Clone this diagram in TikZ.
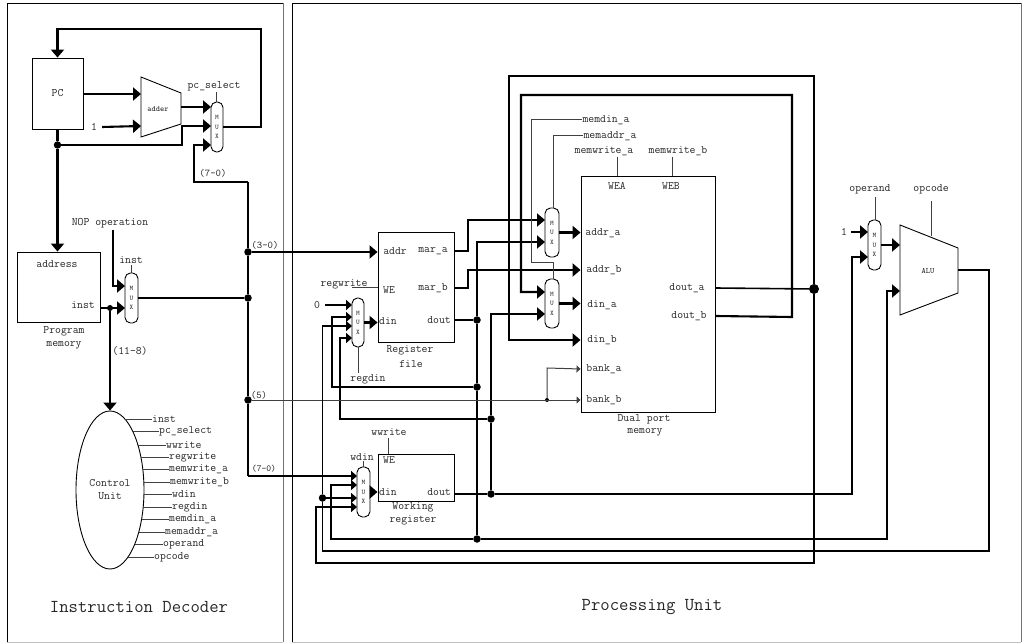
\documentclass[tikz,border=0pt]{standalone}
\usetikzlibrary{arrows.meta,shapes.geometric}

\begin{document}
\begin{tikzpicture}[
  x=1pt, y=-1pt,
  line join=miter,
  every node/.style={font=\ttfamily\fontsize{11.4}{13}\selectfont, inner sep=0pt, text=black!85},
  panel/.style={draw=black, line width=0.9pt},
  paneledge/.style={draw=black!55, line width=0.9pt},
  panelfoot/.style={draw=black!25, line width=0.9pt},
  box/.style={draw, line width=0.9pt},
  mux/.style={draw, line width=0.9pt, rounded corners=5.5pt, inner sep=0pt, align=center,
    font=\ttfamily\fontsize{7}{9.6}\selectfont},
  wire/.style={draw, line width=2.1pt, -{Triangle[length=8pt,width=13pt]}},
  bus/.style={draw, line width=2.1pt},
  feed/.style={draw, line width=1.6pt, -{Triangle[length=6pt,width=10pt]}},
  line/.style={draw, line width=1.6pt},
  signal/.style={draw=black!75, line width=1pt},
  port/.style={draw=black!75, line width=1pt, -{Triangle[length=4pt,width=7pt]}},
  dot/.style={circle, fill=black, minimum size=7.5pt},
  bigdot/.style={circle, fill=black, minimum size=10pt},
  minidot/.style={circle, fill=black, minimum size=4pt},
  small/.style={font=\ttfamily\fontsize{8}{9}\selectfont},
  field/.style={font=\ttfamily\fontsize{10.3}{11}\selectfont},
  title/.style={font=\ttfamily\fontsize{18.2}{19}\selectfont},
]
\useasboundingbox (0,0) rectangle (1023,644);
% the two units
\draw[panel] (7,642) -- (7,3) -- (283,3);
\draw[paneledge] (283,3) -- (283,642);
\draw[panelfoot] (7,642) -- (283,642);
\draw[panel] (292,642) -- (292,3) -- (1021,3);
\draw[paneledge] (1021,3) -- (1021,642);
\draw[panelfoot] (292,642) -- (1021,642);
\node[title] (decoder) at (139,607) {Instruction Decoder};
\node[title] (procunit) at (652,607) {Processing Unit};

% instruction decoder
\node[box, minimum width=51pt, minimum height=71pt] (pc) at (57.5,93.5) {PC};
\draw[box] (141,77) -- (181,93) -- (181,124) -- (141,137) -- cycle;
\node[small] (adder) at (158,109) {adder};
\coordinate (addera) at (141,94);
\coordinate (adderb) at (141,126);
\coordinate (adderout) at (181,107);
\node[mux, minimum width=12pt, minimum height=50pt] (pcmux) at (217,127) {M\\U\\X};
\coordinate (pcmuxa) at (211,107);
\coordinate (pcmuxb) at (211,126);
\coordinate (pcmuxc) at (211,145);
\node (pcselect) at (214,86) {pc\_select};
\node (one) at (94,127) {1};
\node[dot] (pcdot) at (57.5,145) {};

\node[box, minimum width=83pt, minimum height=70pt] (pmem) at (58.5,287) {};
\node (paddress) at (57,264) {address};
\node (pinst) at (83,305) {inst};
\node (pmemtop) at (64,331) {Program};
\node (pmembot) at (64,345) {memory};
\node (nop) at (110,223) {NOP operation};
\node[mux, minimum width=13pt, minimum height=50pt] (imux) at (131.5,298) {M\\U\\X};
\coordinate (imuxa) at (125,286);
\coordinate (imuxb) at (125,308);
\node (iselect) at (131,260) {inst};
\node[dot, minimum size=6pt] (instdot) at (110,308) {};
\node (fieldd) at (130,351) {(11-8)};

\node[ellipse, draw, line width=0.9pt, minimum width=68pt, minimum height=158pt, align=center,
  font=\ttfamily\fontsize{11.4}{13}\selectfont] (cu) at (110,490) {Control\\Unit};
% control outputs: y, end of line, name
\foreach \i/\y/\e/\lab in {
  a/419/152/inst, b/431.5/159/pc\_select, c/445/166/wwrite, d/457/169/regwrite,
  e/469/169/memwrite\_a, f/482/170/memwrite\_b, g/494/172/wdin, h/507/172/regdin,
  i/519/169/memdin\_a, j/532/165/memaddr\_a, k/544/163/operand, l/557/154/opcode}{
  \node[anchor=west] (cu\i) at (\e,\y) {\lab};
  \pgfmathsetmacro{\xs}{110+34*sqrt(1-((\y-490)/79)^2)}
  \draw[signal] (\xs,\y) -- (cu\i.west);
}

% bus
\node[dot] (busa) at (248,252) {};
\node[dot] (busb) at (248,298) {};
\node[dot] (busc) at (248,400) {};
\coordinate (bustop) at (248,182);
\coordinate (busbot) at (248,476);
\node[field] (fieldh) at (213,173) {(7-0)};
\node[field] (fielda) at (265,245) {(3-0)};
\node[field] (fieldb) at (259,395) {(5)};
\node[font=\ttfamily\fontsize{9.2}{10}\selectfont] (fieldw) at (264,469) {(7-0)};

\draw[wire] (pc.east |- addera) -- (addera);
\draw[wire] ([xshift=5pt]one.east) -- (adderb);
\draw[wire] (adderout) -- (pcmuxa);
\draw[bus] (pcmux.east) -- (261,127) -- (261,29) -- (57.5,29) -- (57.5,34);
\draw[wire] (57.5,29) -- (pc.north);
\draw[signal] (216,92) -- (pcmux.north -| 216,0);
\draw[bus] (pc.south) -- (pcdot);
\draw[wire] (pcdot) -- (pcdot |- pmem.north);
\draw[wire] (pcdot) -- (182,145) -- (182,126) -- (pcmuxb);
\draw[wire] (bustop) -- (194,182) -- (194,145) -- (pcmuxc);
\draw[wire] (113,230) -- (113,286) -- (imuxa);
\draw[signal] (131,265) -- (imux.north -| 131,0);
\draw[wire] (pmem.east |- imuxb) -- (imuxb);
\draw[wire] (instdot) -- (instdot |- cu.north);
\draw[bus] (imux.east) -- (busb);
\draw[bus] (bustop) -- (busa);
\draw[bus] (busa) -- (busb);
\draw[bus] (busb) -- (busc);

% register file
\node[box, minimum width=76pt, minimum height=110pt] (regfile) at (416,287) {};
\node (raddr) at (395,251) {addr};
\node (rmara) at (433,251) {mar\_a};
\node (rwe) at (389,290) {WE};
\node (rmarb) at (433,288) {mar\_b};
\node (rdin) at (388,321) {din};
\node (rdout) at (439,320) {dout};
\node (regtop) at (410,350) {Register};
\node (regbot) at (411,364) {file};
\node (regwrite) at (344,284) {regwrite};
\node[mux, minimum width=12pt, minimum height=49pt] (regmux) at (358,322.5) {M\\U\\X};
\coordinate (regmuxa) at (352,305);
\coordinate (regmuxb) at (352,317);
\coordinate (regmuxc) at (352,326);
\coordinate (regmuxd) at (352,338);
\node (zero) at (317,305) {0};
\node (regdin) at (368,379) {regdin};

% working register
\node[box, minimum width=76pt, minimum height=47pt] (workreg) at (416,477.5) {};
\node (wwe) at (389,460) {WE};
\node (wdin) at (388,492) {din};
\node (wdout) at (439,492) {dout};
\node (worktop) at (413,507) {Working};
\node (workbot) at (413,520) {register};
\node (wwrite) at (389,432) {wwrite};
\node (wdinsel) at (362,457) {wdin};
\node[mux, minimum width=13pt, minimum height=50pt] (wmux) at (363.5,492) {M\\U\\X};
\coordinate (wmuxa) at (357,476);
\coordinate (wmuxb) at (357,485);
\coordinate (wmuxc) at (357,498);
\coordinate (wmuxd) at (357,507);

% memory
\node[box, minimum width=134pt, minimum height=236pt] (mem) at (648,294) {};
\node (wea) at (617,186) {WEA};
\node (web) at (671,186) {WEB};
\node (memwa) at (604,151) {memwrite\_a};
\node (memwb) at (678,151) {memwrite\_b};
\node (memdina) at (606,120) {memdin\_a};
\node (memaddra) at (610,136) {memaddr\_a};
\node (addra) at (603,233) {addr\_a};
\node (addrb) at (604,270) {addr\_b};
\node (dina) at (602,305) {din\_a};
\node (dinb) at (602,340) {din\_b};
\node (banka) at (604,369) {bank\_a};
\node (bankb) at (604,400) {bank\_b};
\node (douta) at (687,288) {dout\_a};
\node (doutb) at (689,316) {dout\_b};
\node (memtop) at (644,419) {Dual port};
\node (membot) at (645,432) {memory};
\node[mux, minimum width=14pt, minimum height=49pt] (amux) at (552,232.5) {M\\U\\X};
\coordinate (amuxa) at (545,220);
\coordinate (amuxb) at (545,242);
\node[mux, minimum width=14pt, minimum height=49pt] (dmux) at (552,303.5) {M\\U\\X};
\coordinate (dmuxa) at (545,292);
\coordinate (dmuxb) at (545,314);

% alu
\draw[box] (900,225) -- (958,248) -- (958,293) -- (900,315) -- cycle;
\node[small] (alu) at (928,271) {ALU};
\coordinate (alua) at (900,245);
\coordinate (alub) at (900,291);
\coordinate (aluout) at (958,270);
\node[mux, minimum width=13pt, minimum height=50pt] (opmux) at (874.5,245) {M\\U\\X};
\coordinate (opmuxa) at (868,232);
\coordinate (opmuxb) at (868,257);
\node (opone) at (844,232) {1};
\node (operand) at (870,189) {operand};
\node (opcode) at (931,189) {opcode};

% junctions
\node[dot] (regdot) at (477,320) {};
\node[dot] (regdotb) at (477,387) {};
\node[dot] (regdotc) at (477,539) {};
\node[dot] (workdot) at (491,494) {};
\node[dot] (workdotb) at (491,419) {};
\node[dot] (aludot) at (322.5,498) {};
\node[bigdot] (outdot) at (814,289) {};
\node[minidot] (bankdot) at (547,400) {};

% register file and working register wiring
\draw[wire] (busa) -- (regfile.west |- busa);
\draw[signal] (352,288) -- (regfile.west |- 0,288);
\draw[feed] ([xshift=5pt]zero.east) -- (regmuxa);
\draw[wire] (regmux.east) -- (regfile.west |- regmux);
\draw[signal] (regmux.south) -- (358,373);
\draw[line] (regfile.east |- rdout) -- (regdot);
\draw[line] (regdot) -- (regdotb);
\draw[line] (regdotb) -- (regdotc);
\draw[feed] (regdotb) -- (332,387) -- (332,317) -- (regmuxb);
\draw[feed] (workdotb) -- (340,419) -- (340,338) -- (regmuxd);
\draw[line] (busbot) -- (busc);
\draw[feed] (busbot) -- (wmuxa);
\draw[feed] (regdotc) -- (331,539) -- (331,485) -- (wmuxb);
\draw[feed] (aludot) -- (wmuxc);
\draw[feed] (outdot) -- (814,563) -- (316,563) -- (316,507) -- (wmuxd);
\draw[wire] (wmux.east) -- (workreg.west |- wmux);
\draw[signal] (wdinsel.south -| wmux.north) -- (wmux.north);
\draw[signal] (388,438) -- (workreg.north -| 388,0);
\draw[line] (workreg.east |- workdot) -- (workdot);
\draw[line] (workdot) -- (workdotb);

% memory wiring
\draw[wire] (regfile.east |- rmara) -- (468,251) -- (468,220) -- (amuxa);
\draw[wire] (regfile.east |- rmarb) -- (468,288) -- (468,270) -- (mem.west |- addrb);
\draw[wire] (regdot) -- (477,242) -- (amuxb);
\draw[wire] (workdotb) -- (491,314) -- (dmuxb);
\draw[wire] (amux.east) -- (mem.west |- amux);
\draw[wire] (dmux.east) -- (mem.west |- dmux);
\draw[wire] (outdot) -- (814,76) -- (509,76) -- (509,340) -- (mem.west |- dinb);
\draw[wire] (mem.east |- doutb) -- (792,317) -- (792,95) -- (521,95) -- (521,292) -- (dmuxa);
\draw[line] (mem.east |- douta) -- (outdot);
\draw[port] (busc) -- (mem.west |- busc);
\draw[port] (bankdot) -- (547,368) -- (mem.west |- banka);
\draw[signal] (memdina.west) -- (531,120) -- (531,263) -- (553,263) -- (dmux.north -| 553,0);
\draw[signal] (memaddra.west) -- (553,136) -- (amux.north -| 553,0);
\draw[signal] (617,157) -- (mem.north -| 617,0);
\draw[signal] (672,157) -- (mem.north -| 672,0);

% alu wiring
\draw[wire] ([xshift=4pt]opone.east) -- (opmuxa);
\draw[wire] (opmux.east) -- (alua);
\draw[signal] (875,197) -- (opmux.north -| 875,0);
\draw[signal] (931,201) -- (931,236);
\draw[wire] (workdot) -- (852,494) -- (852,257) -- (opmuxb);
\draw[wire] (regdotc) -- (887,539) -- (887,291) -- (alub);
\draw[line] (aluout) -- (989,270) -- (989,551) -- (322.5,551) -- (aludot);
\draw[feed] (aludot) -- (322.5,326) -- (regmuxc);
\end{tikzpicture}
\end{document}
